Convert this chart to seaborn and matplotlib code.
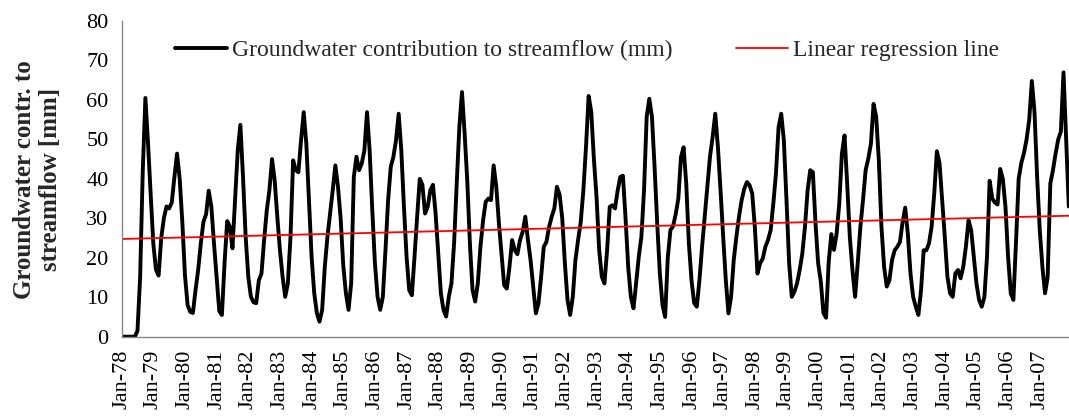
import numpy as np
import pandas as pd
import matplotlib
matplotlib.use("Agg")
import matplotlib.pyplot as plt
import seaborn as sns

# monthly groundwater contribution to streamflow (mm), Jan-78 .. Dec-07
gw_1978_1987 = [
    0, 0, 0, 0, 0, 0, 1.5, 15, 42, 60.5, 49, 36,
    23.6, 17, 15.5, 25, 30, 33, 32.5, 34, 40.5, 46.4, 40, 29,
    15.5, 8, 6.3, 6, 11.8, 16.9, 23.6, 29.1, 31, 37, 32.9, 23.6,
    15.2, 6.5, 5.5, 18.6, 29.3, 27.9, 22.4, 34.6, 47.2, 53.7, 40.5, 25.3,
    15.2, 10.1, 8.7, 8.5, 14.3, 16, 24.5, 32, 37.1, 45, 39.6, 30.4,
    21.9, 15.2, 10.1, 13.5, 25.3, 44.7, 42.2, 41.7, 49.8, 56.9, 48.9, 34.6,
    20.2, 11, 5.9, 3.8, 6.8, 17.7, 25.3, 31.2, 37.1, 43.4, 38, 30,
    18, 11, 6.8, 13.5, 40.5, 45.6, 42.2, 43.9, 47.2, 56.9, 47.2, 32,
    18.6, 10.1, 6.8, 10.1, 21.9, 34.6, 43, 45.6, 49.8, 56.5, 47.2, 32.9,
    20.2, 11.8, 10.5, 20.2, 30.4, 40, 38.5, 31.2, 32.9, 37.1, 38.5, 31.2,
]
gw_1988_1997 = [
    21.1, 11, 6.8, 5.1, 10.1, 13.5, 23.6, 38.8, 53.1, 62, 51.5, 39.6,
    23.6, 11.8, 8.9, 13.5, 22.8, 29.5, 34.2, 35, 34.6, 43.4, 38, 28.7,
    21, 13, 12.2, 17.7, 24.5, 21.9, 20.9, 24.5, 26.6, 30.4, 24.5, 19.4,
    12.7, 5.9, 8.5, 15.2, 22.8, 24, 27.8, 30.4, 32.5, 38, 36, 30,
    18.6, 9.3, 5.5, 10.1, 19.4, 24.5, 29, 37, 48, 61, 57, 45,
    35.4, 21.9, 15.2, 13.5, 21.9, 32.9, 33.3, 32.5, 37, 40.5, 40.8, 30,
    17.7, 10.1, 7.2, 13.5, 20.2, 25.3, 37.1, 55.7, 60.3, 55.7, 43, 28.7,
    16, 8, 5, 20, 27, 28, 31, 35, 45.5, 48, 38.8, 23.6,
    14.3, 8.5, 7.6, 14.3, 22.8, 30.4, 38, 45.6, 50.6, 56.5, 48.1, 37.1,
    25.3, 14.3, 5.9, 10.1, 19.4, 25.3, 30.4, 34.6, 37.5, 39.2, 38.4, 36.3,
]
gw_1998_2007 = [
    27.8, 16, 18.6, 19.8, 22.8, 24.5, 27, 33.7, 41.3, 53.1, 56.5, 49.8,
    34.6, 18.6, 10.1, 11.4, 13.5, 16.9, 21.1, 27.8, 37.1, 42.2, 41.7, 28.7,
    18.6, 14, 6, 4.8, 19, 26, 22, 26.1, 33.7, 46.4, 51, 38.8,
    25.3, 16.9, 10.1, 18.6, 27.8, 34.6, 42.2, 45.1, 48.9, 59, 55.7, 44.7,
    27.8, 17.7, 12.7, 14.3, 19.4, 21.9, 22.8, 24, 29, 32.7, 26, 16,
    10.1, 7.6, 5.5, 11.8, 21.9, 21.9, 23.6, 27.8, 36.3, 47, 44, 34.6,
    25.3, 15.2, 11, 10.1, 16, 16.9, 14.8, 17.7, 22.8, 29.5, 27, 20.2,
    13.5, 9.3, 7.6, 10, 20.2, 39.5, 35, 34, 33.5, 42.5, 40, 32.9,
    20.2, 11, 9.3, 24, 40, 44, 46.5, 50, 55, 64.8, 57, 40.5,
    27, 17.7, 11, 15.2, 38.8, 42.2, 46.4, 50, 52, 67, 50, 33,
]

tick_labels = [f"Jan-{y % 100:02d}" for y in range(1978, 2008)]

flow = gw_1978_1987 + gw_1988_1997 + gw_1998_2007
df = pd.DataFrame({"month": np.arange(len(flow)), "flow": flow})

sns.set_style("white")
plt.rcParams["font.family"] = ["Liberation Serif", "DejaVu Serif"]

fig = plt.figure(figsize=(10.69, 4.17), dpi=100)
ax = fig.add_axes([0.1138, 0.1926, 0.886, 0.757])

sns.lineplot(data=df, x="month", y="flow", color="black", linewidth=2.8,
             ax=ax, label="Groundwater contribution to streamflow (mm)")
sns.regplot(data=df, x="month", y="flow", scatter=False, ci=None,
            color="red", line_kws={"linewidth": 1.3}, ax=ax,
            label="Linear regression line")

ax.set_xlim(0, len(flow) - 1)
ax.set_ylim(0, 80)
ax.set_yticks(range(0, 81, 10))
ax.set_xticks(np.arange(0, len(flow), 12))
ax.set_xticklabels(tick_labels, rotation=90)
ax.set_xlabel("")
ax.set_ylabel("")

for side in ["top", "right"]:
    ax.spines[side].set_visible(False)
for side in ["left", "bottom"]:
    ax.spines[side].set_color("#868686")
    ax.spines[side].set_linewidth(1)
ax.tick_params(direction="out", length=6, width=1, color="#868686",
               labelsize=16, labelcolor="black")

handles, labels = ax.get_legend_handles_labels()
ax.legend(handles, labels, loc="center left", ncol=2, frameon=False,
          fontsize=17, borderpad=0, borderaxespad=0, handlelength=2.2,
          handletextpad=0.2, columnspacing=2.7,
          bbox_to_anchor=(175 / 1069, 1 - 50 / 417), bbox_transform=fig.transFigure)

fig.text(0.035, 0.57, "Groundwater contr. to\nstreamflow [mm]", rotation=90,
         ha="center", va="center", fontsize=18, fontweight="bold",
         multialignment="center")

fig.savefig("out.png", dpi=100)
